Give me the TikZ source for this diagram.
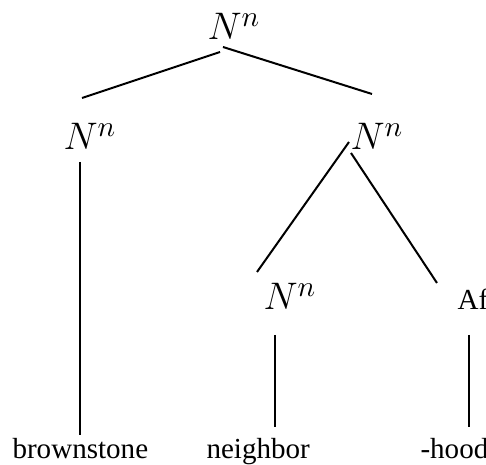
\documentclass[tikz,border=0pt]{standalone}
\usepackage{fontspec}
\setmainfont{Liberation Serif}
\usetikzlibrary{calc}
\tikzstyle{Cat} = [
inner sep=0pt,
anchor=base west,
font=\fontsize{15.4}{18}\selectfont]
\tikzstyle{Word} = [
inner sep=0pt,
anchor=base west,
font=\fontsize{10.9}{13}\selectfont]
\tikzstyle{Branch} = [line width=0.75pt]

\begin{document}
\begin{tikzpicture}[x=0.375pt, y=-0.375pt]
    \useasboundingbox (0,0) rectangle (486,465);
    \node[Cat] (top) at (207,40) {$N^n$};
    \node[Cat] (lft) at (63,150) {$N^n$};
    \node[Cat] (rgt) at (350,150) {$N^n$};
    \node[Cat] (nbr) at (263,310) {$N^n$};
    \node[Word] (af) at (457,310) {Af};
    \node[Word] (brown) at (12,459) {brownstone};
    \node[Word] (neigh) at (206,459) {neighbor};
    \node[Word] (hood) at (420,459) {-hood};

    \draw[Branch] ($(top.base west)+(13,12)$) -- ($(lft.base west)+(19,-52)$);
    \draw[Branch] ($(top.base west)+(16,7)$) -- ($(rgt.base west)+(22,-56)$);
    \draw[Branch] ($(lft.base west)+(17,12)$) -- ($(brown.base west)+(68,-24)$);
    \draw[Branch] ($(rgt.base west)+(-1,-8)$) -- ($(nbr.base west)+(-6,-38)$);
    \draw[Branch] ($(rgt.base west)+(1,3)$) -- ($(af.base west)+(-20,-27)$);
    \draw[Branch] ($(nbr.base west)+(12,25)$) -- ($(neigh.base west)+(69,-32)$);
    \draw[Branch] ($(af.base west)+(12,25)$) -- ($(hood.base west)+(49,-32)$);
\end{tikzpicture}
\end{document}
